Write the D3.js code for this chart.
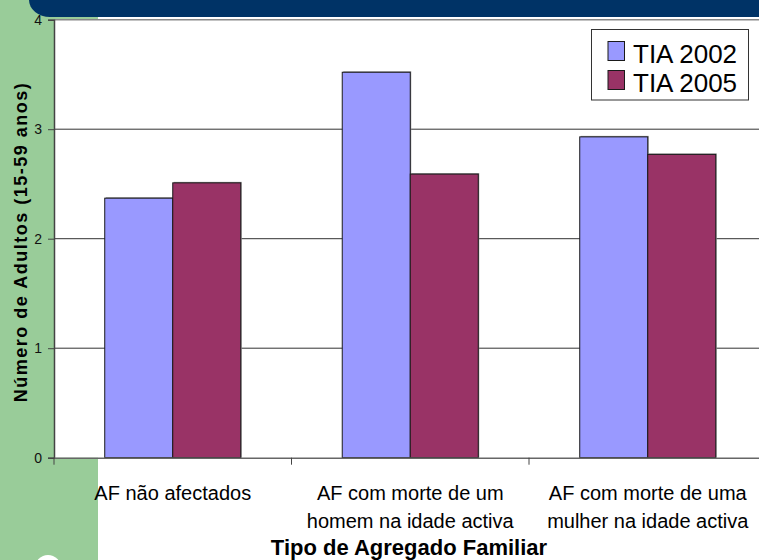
<!DOCTYPE html>
<html>
<head>
<meta charset="utf-8">
<script src="https://cdn.jsdelivr.net/npm/d3@7"></script>
<style>
  body { margin: 0; background: #fff; }
  svg { display: block; font-family: "Liberation Sans", Arial, sans-serif; }
</style>
</head>
<body>
<script>
const categories = [
  ['AF não afectados'],
  ['AF com morte de um', 'homem na idade activa'],
  ['AF com morte de uma', 'mulher na idade activa']
];
const seriesNames = ['TIA 2002', 'TIA 2005'];
const tia2002 = [2.37, 3.52, 2.93];
const tia2005 = [2.51, 2.59, 2.77];
const yTicks = [0, 1, 2, 3, 4];

const colors = ['#9999ff', '#993366'];
const w = 759;
const h = 560;

const svg = d3.select('body').append('svg').attr('width', w).attr('height', h);

// slide background: green strip and header bar
svg.append('rect').attr('x', 0).attr('y', 0).attr('width', 98).attr('height', h).attr('fill', '#99cc99');
svg.append('path')
  .attr('d', 'M29,0 H759 V17 H50 A21,17 0 0 1 29,0 Z')
  .attr('fill', '#003366');
svg.append('circle').attr('cx', 48).attr('cy', 568).attr('r', 13).attr('fill', '#fff');

const catKeys = categories.map((d, i) => i);
const x0 = d3.scaleBand().domain(catKeys).range([54, 766.5]);
const x1 = d3.scaleBand().domain(seriesNames).range([0, x0.bandwidth()]).paddingOuter(0.746).paddingInner(0);
const y = d3.scaleLinear().domain([0, 4]).range([457.7, 19.7]);

// plot area
svg.append('rect').attr('x', 54).attr('y', y(4)).attr('width', w - 54).attr('height', y(0) - y(4)).attr('fill', '#fff');

// gridlines
svg.append('g').selectAll('line')
  .data(yTicks.filter(d => d > 0))
  .join('line')
  .attr('x1', 54).attr('x2', w)
  .attr('y1', d => y(d)).attr('y2', d => y(d))
  .attr('stroke', d => d === 4 ? '#888' : '#333')
  .attr('stroke-width', d => d === 4 ? 1.6 : 1);

// bars
const rows = catKeys.map(i => [tia2002[i], tia2005[i]]);
const groups = svg.append('g').selectAll('g')
  .data(rows)
  .join('g')
  .attr('transform', (d, i) => `translate(${x0(i)},0)`);

groups.selectAll('rect.shadow')
  .data(d => d.map((v, j) => ({ v, s: seriesNames[j], j })))
  .join('rect')
  .attr('class', 'shadow')
  .attr('x', d => x1(d.s) + 1)
  .attr('y', d => y(d.v) - 1)
  .attr('width', x1.bandwidth())
  .attr('height', d => y(0) - y(d.v) + 1)
  .attr('fill', '#999');

groups.selectAll('rect.bar')
  .data(d => d.map((v, j) => ({ v, s: seriesNames[j], j })))
  .join('rect')
  .attr('class', 'bar')
  .attr('x', d => x1(d.s))
  .attr('y', d => y(d.v))
  .attr('width', x1.bandwidth())
  .attr('height', d => y(0) - y(d.v))
  .attr('fill', d => colors[d.j])
  .attr('stroke', '#1a1a1a')
  .attr('stroke-width', 1);

// y axis
const yAxis = svg.append('g')
  .attr('transform', 'translate(54,0)')
  .call(d3.axisLeft(y).tickValues(yTicks).tickSize(6).tickPadding(6).tickFormat(d3.format('d')));
yAxis.select('.domain').attr('stroke', '#444').attr('stroke-width', 1.5);
yAxis.selectAll('.tick line').attr('stroke', '#444');
yAxis.selectAll('.tick text').attr('font-size', 14).attr('fill', '#111').attr('font-family', '"Liberation Sans", Arial, sans-serif');

// x axis
const xAxis = svg.append('g')
  .attr('transform', `translate(0,${y(0)})`)
  .call(d3.axisBottom(x0).tickSize(0).tickFormat(''));
xAxis.select('.domain').attr('stroke', '#666').attr('stroke-width', 1.5);
xAxis.selectAll('.tick').remove();
svg.append('g').selectAll('line')
  .data(catKeys)
  .join('line')
  .attr('x1', d => x0(d)).attr('x2', d => x0(d))
  .attr('y1', y(0)).attr('y2', y(0) + 7)
  .attr('stroke', '#444');

// category labels
const lbl = svg.append('g').selectAll('text')
  .data(categories)
  .join('text')
  .attr('text-anchor', 'middle')
  .attr('font-size', 20)
  .attr('fill', '#000');
lbl.selectAll('tspan')
  .data((d, i) => d.map((t, k) => ({ t, k, i })))
  .join('tspan')
  .attr('x', d => x0(d.i) + x0.bandwidth() / 2)
  .attr('y', d => 500 + d.k * 27.5)
  .text(d => d.t);

// axis titles
svg.append('text')
  .attr('x', 409).attr('y', 555)
  .attr('text-anchor', 'middle')
  .attr('font-size', 22).attr('font-weight', 'bold')
  .text('Tipo de Agregado Familiar');

svg.append('text')
  .attr('transform', 'translate(27,242) rotate(-90)')
  .attr('text-anchor', 'middle')
  .attr('font-size', 18).attr('font-weight', 'bold')
  .attr('letter-spacing', 1.5)
  .text('Número de Adultos (15-59 anos)');

// legend
const lg = svg.append('g');
lg.append('rect')
  .attr('x', 591.5).attr('y', 29.5).attr('width', 157).attr('height', 70.5)
  .attr('fill', '#fff').attr('stroke', '#333').attr('stroke-width', 1);
const li = lg.selectAll('g.item')
  .data(seriesNames)
  .join('g')
  .attr('class', 'item')
  .attr('transform', (d, i) => `translate(608,${41.5 + i * 29})`);
li.append('rect')
  .attr('width', 16.5).attr('height', 19)
  .attr('fill', (d, i) => colors[i])
  .attr('stroke', '#1a1a1a');
li.append('text')
  .attr('x', 25).attr('y', 21)
  .attr('font-size', 26)
  .text(d => d);
</script>
</body>
</html>
